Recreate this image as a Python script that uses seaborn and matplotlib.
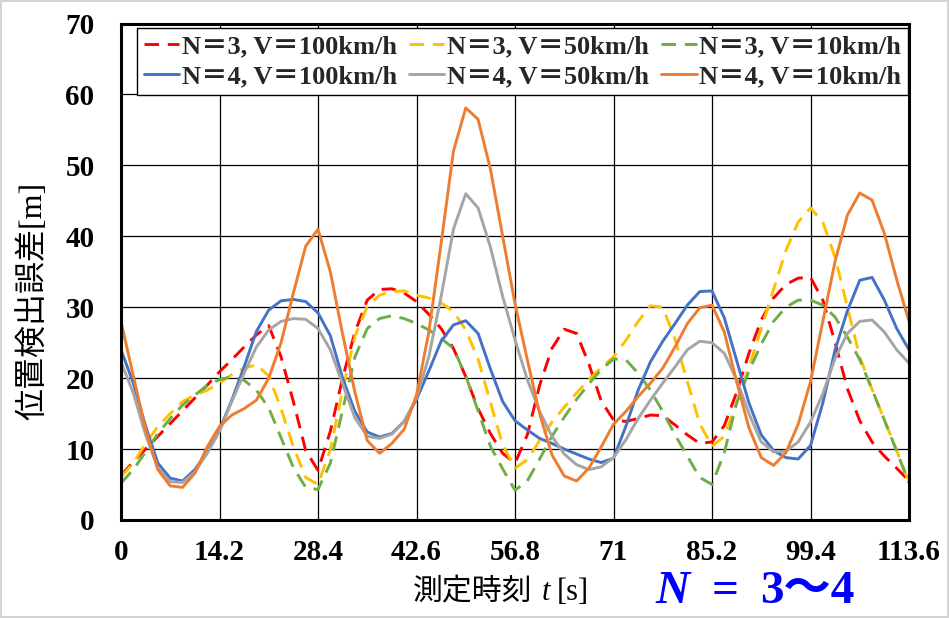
import numpy as np
import pandas as pd
import matplotlib
matplotlib.use("Agg")
import matplotlib.pyplot as plt
import seaborn as sns
from matplotlib.lines import Line2D

# measurement times [s]
t = np.linspace(0, 113.6, 65)

# position detection error [m] for each condition
n3_v100 = [6.3, 8.2, 10.0, 11.8, 13.6, 15.4, 17.2, 19.0, 20.9, 22.6, 24.4, 26.1, 27.4, 23.0, 16.7, 9.8, 7.0,
           12.5, 20.0, 26.5, 31.0, 32.5, 32.6, 32.0, 30.8, 29.0, 27.0, 24.2, 20.2, 15.7, 12.2, 9.4, 8.0,
           12.0, 19.0, 24.2, 26.9, 26.3, 22.0, 16.8, 14.1, 13.9, 14.3, 14.8, 14.7, 13.4, 12.0, 10.8, 11.0,
           13.3, 18.0, 23.5, 28.2, 31.3, 33.2, 34.1, 34.2, 31.0, 25.0, 18.5, 14.0, 11.0, 9.0, 7.3, 5.5]
n3_v50 = [6.1, 8.0, 10.8, 13.2, 15.0, 16.7, 17.6, 18.3, 19.3, 20.5, 21.4, 21.9, 20.3, 15.7, 10.3, 6.0, 5.0,
          9.9, 18.3, 25.9, 30.1, 31.7, 32.2, 32.3, 31.7, 31.3, 30.6, 29.4, 26.8, 22.7, 16.6, 10.6, 7.3,
          8.5, 11.2, 13.8, 15.9, 17.9, 19.8, 21.5, 23.0, 25.3, 28.0, 30.2, 30.0, 25.5, 19.5, 13.6, 10.4,
          11.8, 16.5, 21.5, 27.0, 32.5, 38.0, 42.0, 44.0, 42.0, 37.0, 30.0, 23.0, 18.4, 14.1, 9.8, 5.3]
n3_v10 = [5.2, 7.1, 9.6, 12.2, 14.3, 16.2, 17.6, 19.0, 19.8, 20.2, 19.7, 18.3, 15.8, 11.6, 7.4, 4.6, 4.3,
          8.0, 15.5, 23.0, 27.0, 28.4, 28.8, 28.4, 27.7, 26.8, 25.6, 24.2, 20.3, 15.4, 10.4, 7.2, 4.2,
          5.5, 8.6, 11.8, 14.5, 17.0, 19.2, 21.2, 22.7, 22.6, 20.7, 18.3, 15.3, 12.0, 9.0, 6.0, 5.0,
          9.5, 16.5, 21.0, 24.8, 28.0, 30.0, 31.0, 31.0, 30.3, 28.6, 25.8, 22.6, 18.4, 14.1, 9.7, 5.2]
n4_v100 = [24.0, 19.3, 13.2, 8.0, 5.9, 5.5, 7.1, 9.6, 12.7, 16.9, 21.6, 26.6, 29.6, 30.9, 31.1, 30.8, 29.2,
           26.0, 20.0, 15.3, 12.4, 11.7, 12.2, 13.9, 17.0, 21.0, 25.2, 27.5, 28.1, 26.3, 21.3, 16.7, 14.0,
           12.7, 11.5, 10.8, 10.0, 9.3, 8.6, 8.1, 8.7, 13.2, 18.3, 22.3, 25.2, 27.7, 30.3, 32.2, 32.3,
           28.5, 22.5, 16.5, 12.0, 9.8, 8.8, 8.6, 10.5, 16.5, 24.0, 29.5, 33.8, 34.2, 31.0, 27.0, 24.0]
n4_v50 = [22.3, 17.9, 12.0, 7.3, 5.4, 5.3, 6.8, 9.4, 12.5, 16.7, 20.7, 24.4, 26.8, 28.0, 28.4, 28.3, 27.0,
          24.0, 19.2, 14.4, 11.8, 11.5, 12.1, 13.9, 17.2, 23.0, 31.5, 41.0, 46.0, 44.0, 38.5, 31.5, 25.4,
          19.8, 15.3, 11.8, 9.3, 7.8, 7.1, 7.5, 8.8, 11.3, 14.3, 16.9, 19.3, 21.6, 24.0, 25.2, 25.0,
          23.5, 19.8, 15.0, 11.0, 9.6, 9.7, 11.0, 13.8, 17.8, 22.8, 26.3, 28.0, 28.2, 26.5, 24.0, 22.1]
n4_v10 = [28.0, 20.3, 12.7, 7.1, 4.8, 4.6, 6.6, 10.3, 13.2, 14.8, 15.7, 16.9, 20.0, 25.0, 32.0, 38.6, 41.0,
          35.0, 26.2, 18.0, 11.2, 9.4, 10.8, 12.8, 17.6, 26.5, 39.0, 52.0, 58.1, 56.5, 49.5, 40.0, 30.5,
          22.6, 15.0, 9.2, 6.2, 5.5, 7.3, 10.3, 13.5, 15.3, 17.4, 19.3, 21.4, 24.4, 27.7, 29.9, 30.3,
          26.5, 19.5, 13.0, 8.8, 7.7, 9.5, 13.5, 19.5, 28.0, 36.5, 43.0, 46.1, 45.1, 40.4, 33.9, 28.0]

series_names = ["N＝3, V＝100km/h", "N＝3, V＝50km/h", "N＝3, V＝10km/h",
                "N＝4, V＝100km/h", "N＝4, V＝50km/h", "N＝4, V＝10km/h"]
series_values = [n3_v100, n3_v50, n3_v10, n4_v100, n4_v50, n4_v10]
series_colors = ["#FF0000", "#FFC000", "#70AD47", "#4472C4", "#A5A5A5", "#ED7D31"]
series_dashes = [(5, 3), (5, 3), (5, 3), "", "", ""]

x_tick_labels = ["0", "14.2", "28.4", "42.6", "56.8", "71", "85.2", "99.4", "113.6"]
y_tick_labels = ["0", "10", "20", "30", "40", "50", "60", "70"]

df = pd.concat(
    [pd.DataFrame({"t": t, "err": v, "series": name}) for name, v in zip(series_names, series_values)],
    ignore_index=True,
)

sns.set_theme(style="white")
SERIF_JP = ["Liberation Serif", "Noto Sans CJK JP"]
plt.rcParams["font.family"] = SERIF_JP
plt.rcParams["lines.solid_joinstyle"] = "round"
plt.rcParams["lines.dash_joinstyle"] = "round"

W, H = 949, 618
fig = plt.figure(figsize=(W / 100, H / 100), dpi=100)
fig.patch.set_facecolor("white")
fig.patch.set_edgecolor("#d4d4d4")
fig.patch.set_linewidth(1.5)

ax = fig.add_axes([121 / W, 1 - 520 / H, (909 - 121) / W, (520 - 23.5) / H])

sns.lineplot(
    data=df, x="t", y="err", hue="series", style="series",
    hue_order=series_names, style_order=series_names,
    palette=dict(zip(series_names, series_colors)),
    dashes=dict(zip(series_names, series_dashes)),
    linewidth=2.1, estimator=None, legend=False, ax=ax,
)
for ln in ax.get_lines():
    ln.set_solid_joinstyle("round")
    ln.set_dash_joinstyle("round")

ax.set_xlim(0, 113.6)
ax.set_ylim(0, 70)
ax.set_xticks([float(s) for s in x_tick_labels])
ax.set_xticklabels(x_tick_labels, fontweight="bold", fontsize=21)
ax.set_yticks([float(s) for s in y_tick_labels])
ax.set_yticklabels(y_tick_labels, fontweight="bold", fontsize=21)
ax.tick_params(axis="both", length=0, colors="black")
ax.tick_params(axis="x", pad=14)
ax.tick_params(axis="y", pad=19)
ax.set_xlabel("")
ax.set_ylabel("")
ax.set_axisbelow(True)
ax.grid(True, color="black", linewidth=0.9)
for sp in ax.spines.values():
    sp.set_visible(True)
    sp.set_color("black")
    sp.set_linewidth(2.2)

# legend: three columns, first row N=3, second row N=4
handles = []
for c, d in zip(series_colors, series_dashes):
    h = Line2D([], [], color=c, lw=2.1)
    if d:
        h.set_dashes(d)
    handles.append(h)
order = [0, 3, 1, 4, 2, 5]
leg = ax.legend(
    [handles[i] for i in order], [series_names[i] for i in order],
    ncol=3, loc="upper left", bbox_to_anchor=(137 / W, 1 - 28 / H),
    bbox_transform=fig.transFigure, borderaxespad=0,
    prop=dict(family=SERIF_JP, weight="bold", size=19),
    frameon=True, fancybox=False, framealpha=1, edgecolor="black",
    borderpad=0.25, labelspacing=0.25, handlelength=1.35, handletextpad=0.1,
    columnspacing=0.45,
)
leg.get_frame().set_linewidth(1.0)

# y axis title
fig.text(33 / W, 1 - 301 / H, "位置検出誤差[m]", rotation=90, ha="center", va="center",
         family=SERIF_JP, fontsize=23, color="black")


def text_run(x_center_px, baseline_px, pieces):
    r = fig.canvas.get_renderer()
    objs, gaps = [], []
    for s, kw, gap in pieces:
        objs.append(fig.text(0, 1 - baseline_px / H, s, ha="left", va="baseline", **kw))
        gaps.append(gap)
    widths = [o.get_window_extent(r).width for o in objs]
    total = sum(widths) + sum(gaps[:-1])
    x = x_center_px - total / 2
    for o, w, g in zip(objs, widths, gaps):
        o.set_x(x / W)
        x += w + g


# x axis title
text_run(501, 600, [
    ("測定時刻", dict(family=["Noto Sans CJK JP"], fontsize=21.5, color="black"), 9),
    ("t", dict(family=["Liberation Serif"], style="italic", fontsize=22, color="black"), 7),
    ("[s]", dict(family=["Liberation Serif"], fontsize=22, color="black"), 0),
])

# annotation of the station count range
text_run(755, 603, [
    ("N", dict(family=["Liberation Serif"], style="italic", weight="bold", fontsize=34, color="#0000FF"), 22),
    ("=", dict(family=["Liberation Serif"], weight="bold", fontsize=34, color="#0000FF"), 22),
    ("3～4", dict(family=SERIF_JP, weight="bold", fontsize=34, color="#0000FF"), 0),
])

fig.savefig("out.png", dpi=100)
